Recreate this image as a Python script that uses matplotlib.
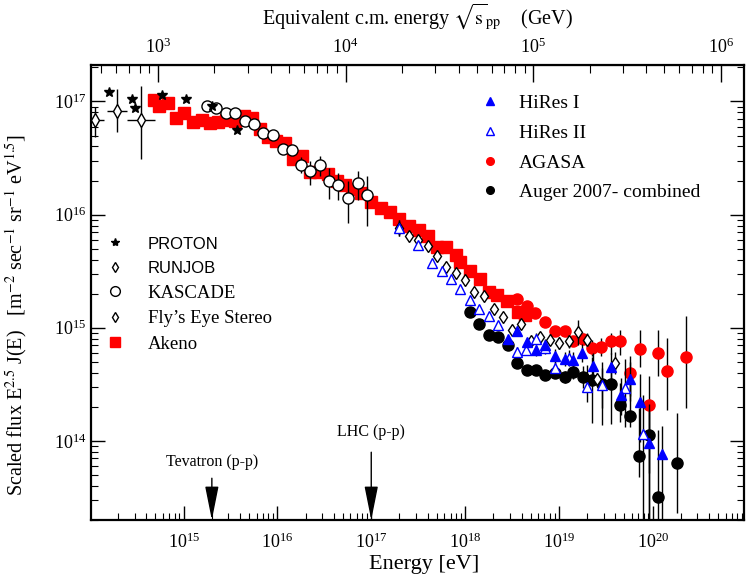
import numpy as np
import matplotlib
matplotlib.use("Agg")
import matplotlib.pyplot as plt
from matplotlib.lines import Line2D
from matplotlib.ticker import FixedLocator, LogLocator, NullFormatter

plt.rcParams["font.family"] = "Liberation Serif"
plt.rcParams["mathtext.fontset"] = "stix"

# all values as log10(E / eV) and log10(E^2.5 J(E))
proton_lgE = [14.20, 14.45, 14.485, 14.765, 15.03, 15.30, 15.565]
proton_lgF = [17.08, 17.02, 16.94, 17.06, 17.02, 16.96, 16.75]

runjob_lgE = [14.06, 14.29, 14.545]
runjob_lgF = [16.84, 16.92, 16.835]
runjob_dx = [0.09, 0.107, 0.15]
runjob_up = [0.11, 0.19, 0.30]
runjob_dn = [0.15, 0.19, 0.34]

kascade_lgE = [15.25, 15.345, 15.45, 15.55, 15.65, 15.75, 15.85, 15.95, 16.055,
               16.15, 16.25, 16.35, 16.45, 16.545, 16.645, 16.75, 16.855, 16.955]
kascade_lgF = [16.96, 16.94, 16.90, 16.895, 16.83, 16.80, 16.72, 16.70, 16.58,
               16.575, 16.44, 16.385, 16.44, 16.295, 16.26, 16.15, 16.275, 16.17]
kascade_up = [0.01, 0.01, 0.01, 0.01, 0.01, 0.01, 0.02, 0.02, 0.03,
              0.03, 0.07, 0.09, 0.08, 0.12, 0.11, 0.15, 0.11, 0.17]
kascade_dn = [0.01, 0.01, 0.01, 0.01, 0.01, 0.01, 0.02, 0.02, 0.03,
              0.03, 0.07, 0.12, 0.10, 0.16, 0.13, 0.22, 0.15, 0.27]

flyseye_lgE = [17.30, 17.40, 17.50, 17.60, 17.70, 17.80, 17.90, 18.00, 18.10, 18.205,
               18.305, 18.40, 18.50, 18.60, 18.70, 18.80, 18.90, 19.005, 19.105,
               19.20, 19.305, 19.405, 19.60]
flyseye_lgF = [15.88, 15.81, 15.78, 15.725, 15.63, 15.54, 15.48, 15.425, 15.32, 15.28,
               15.165, 15.095, 14.98, 15.03, 14.885, 14.92, 14.895, 14.865, 14.88,
               14.96, 14.895, 14.55, 14.69]
flyseye_err = [0.07, 0.02, 0.02, 0.02, 0.02, 0.02, 0.02, 0.02, 0.02, 0.03,
               0.03, 0.03, 0.03, 0.03, 0.04, 0.04, 0.05, 0.05, 0.06,
               0.11, 0.06, 0.05, 0.10]

akeno_lgE = [14.68, 14.74, 14.83, 14.915, 15.00, 15.10, 15.195, 15.28, 15.365, 15.455,
             15.55, 15.64, 15.73, 15.81, 15.90, 15.99, 16.08, 16.17, 16.26, 16.35,
             16.44, 16.535, 16.63, 16.72, 16.80, 16.89, 17.00, 17.10, 17.20, 17.30,
             17.40, 17.505, 17.61, 17.70, 17.80, 17.90, 17.95, 18.05, 18.155, 18.25,
             18.34, 18.45, 18.56, 18.64]
akeno_lgF = [17.01, 16.96, 16.99, 16.855, 16.90, 16.82, 16.84, 16.81, 16.82, 16.84,
             16.83, 16.87, 16.85, 16.76, 16.69, 16.65, 16.63, 16.49, 16.52, 16.38,
             16.38, 16.36, 16.30, 16.26, 16.23, 16.19, 16.11, 16.06, 16.02, 15.965,
             15.90, 15.86, 15.815, 15.715, 15.715, 15.64, 15.58, 15.50, 15.43, 15.32,
             15.29, 15.24, 15.14, 15.11]

hires1_lgE = [18.46, 18.555, 18.66, 18.755, 18.855, 18.955, 19.06, 19.155, 19.25, 19.36,
              19.56, 19.66, 19.755, 19.86, 19.96, 20.10]
hires1_lgF = [14.90, 14.975, 14.87, 14.80, 14.85, 14.75, 14.725, 14.715, 14.78, 14.66,
              14.655, 14.405, 14.55, 14.34, 13.98, 13.885]
hires1_up = [0.04, 0.04, 0.04, 0.05, 0.05, 0.06, 0.06, 0.07, 0.08, 0.12,
             0.12, 0.15, 0.15, 0.25, 0.35, 0.25]
hires1_dn = [0.04, 0.04, 0.04, 0.05, 0.05, 0.06, 0.06, 0.07, 0.08, 0.14,
             0.12, 0.18, 0.20, 0.35, 0.70, 0.80]

hires2_lgE = [17.30, 17.50, 17.65, 17.755, 17.855, 17.95, 18.05, 18.15, 18.25, 18.35,
              18.555, 18.65, 18.755, 18.855, 18.955, 19.105, 19.30, 19.455, 19.70, 19.895]
hires2_lgF = [15.885, 15.73, 15.57, 15.505, 15.43, 15.34, 15.245, 15.17, 15.105, 15.02,
              14.79, 14.80, 14.905, 14.82, 14.64, 14.73, 14.475, 14.49, 14.47, 14.06]
hires2_up = [0.07, 0.02, 0.02, 0.02, 0.02, 0.02, 0.03, 0.03, 0.03, 0.03,
             0.04, 0.04, 0.05, 0.05, 0.06, 0.07, 0.20, 0.15, 0.25, 0.35]
hires2_dn = [0.07, 0.02, 0.02, 0.02, 0.02, 0.02, 0.03, 0.03, 0.03, 0.03,
             0.04, 0.04, 0.05, 0.05, 0.06, 0.07, 0.13, 0.20, 0.35, 1.00]

agasa_lgE = [18.555, 18.655, 18.75, 18.855, 18.955, 19.06, 19.155, 19.255, 19.355, 19.45,
             19.555, 19.655, 19.755, 19.86, 19.96, 20.055, 20.155, 20.36]
agasa_lgF = [15.255, 15.195, 15.13, 15.055, 14.975, 14.975, 14.885, 14.905, 14.82, 14.83,
             14.88, 14.88, 14.60, 14.81, 14.32, 14.78, 14.62, 14.74]
agasa_up = [0.02, 0.02, 0.03, 0.03, 0.03, 0.04, 0.04, 0.05, 0.07, 0.08,
            0.07, 0.10, 0.15, 0.17, 0.25, 0.20, 0.29, 0.36]
agasa_dn = [0.02, 0.02, 0.03, 0.03, 0.03, 0.04, 0.04, 0.05, 0.07, 0.08,
            0.11, 0.12, 0.20, 0.16, 0.60, 0.21, 0.35, 0.45]

auger_lgE = [18.05, 18.15, 18.25, 18.35, 18.46, 18.555, 18.66, 18.755, 18.855, 18.955,
             19.06, 19.155, 19.255, 19.355, 19.46, 19.555, 19.655, 19.755, 19.855, 19.96,
             20.055, 20.26]
auger_lgF = [15.135, 15.03, 14.94, 14.92, 14.845, 14.69, 14.625, 14.625, 14.585, 14.60,
             14.565, 14.61, 14.565, 14.54, 14.50, 14.50, 14.315, 14.22, 13.87, 14.05,
             13.50, 13.805]
auger_up = [0.02, 0.02, 0.02, 0.02, 0.02, 0.03, 0.03, 0.03, 0.03, 0.04,
            0.05, 0.06, 0.10, 0.20, 0.20, 0.19, 0.20, 0.30, 0.42, 0.25,
            0.60, 0.44]
auger_dn = [0.02, 0.02, 0.02, 0.02, 0.02, 0.03, 0.03, 0.03, 0.03, 0.04,
            0.05, 0.06, 0.10, 0.38, 0.36, 0.35, 0.15, 0.10, 0.19, 1.00,
            1.00, 0.44]

tevatron_E, tevatron_label = 2e15, "Tevatron (p-p)"
lhc_E, lhc_label = 1e17, "LHC (p-p)"
energy_ticks = [1e15, 1e16, 1e17, 1e18, 1e19, 1e20]
flux_ticks = [1e14, 1e15, 1e16, 1e17]
sqrts_ticks = [1e3, 1e4, 1e5, 1e6]


def vals(lg):
    return 10 ** np.asarray(lg, dtype=float)


def yerr(lgF, up, dn):
    F = vals(lgF)
    return [F - F * 10 ** (-np.asarray(dn)), F * 10 ** np.asarray(up) - F]


fig = plt.figure(figsize=(7.46, 5.75), dpi=100)
ax = fig.add_axes([91 / 746, 55 / 575, 653 / 746, 455 / 575])
ax.set_xscale("log")
ax.set_yscale("log")
ax.set_xlim(1.03e14, 9.4e20)
ax.set_ylim(2.0e13, 2.1e17)

eb = dict(ecolor="k", elinewidth=1, capsize=0, linestyle="none")

ax.errorbar(vals(akeno_lgE), vals(akeno_lgF), marker="s", ms=8, mfc="red", mec="red",
            **eb, zorder=2)
ax.errorbar(vals(kascade_lgE), vals(kascade_lgF), yerr=yerr(kascade_lgF, kascade_up, kascade_dn),
            marker="o", ms=8, mfc="white", mec="k", mew=1, **eb, zorder=3)
ax.plot(vals(proton_lgE), vals(proton_lgF), "*", ms=7, color="k", zorder=4)
E_rj = vals(runjob_lgE)
ax.errorbar(E_rj, vals(runjob_lgF), yerr=yerr(runjob_lgF, runjob_up, runjob_dn),
            xerr=[E_rj - E_rj * 10 ** -np.array(runjob_dx), E_rj * 10 ** np.array(runjob_dx) - E_rj],
            marker="d", ms=7, mfc="white", mec="k", mew=1, **eb, zorder=4)
ax.errorbar(vals(flyseye_lgE), vals(flyseye_lgF), yerr=yerr(flyseye_lgF, flyseye_err, flyseye_err),
            marker="d", ms=6.5, mfc="white", mec="k", mew=1, **eb, zorder=4)
ax.errorbar(vals(agasa_lgE), vals(agasa_lgF), yerr=yerr(agasa_lgF, agasa_up, agasa_dn),
            marker="o", ms=8, mfc="red", mec="red", **eb, zorder=3)
ax.errorbar(vals(auger_lgE), vals(auger_lgF), yerr=yerr(auger_lgF, auger_up, auger_dn),
            marker="o", ms=8, mfc="k", mec="k", **eb, zorder=3)
ax.errorbar(vals(hires2_lgE), vals(hires2_lgF), yerr=yerr(hires2_lgF, hires2_up, hires2_dn),
            marker="^", ms=7.5, mfc="white", mec="blue", mew=1, **eb, zorder=5)
ax.errorbar(vals(hires1_lgE), vals(hires1_lgF), yerr=yerr(hires1_lgF, hires1_up, hires1_dn),
            marker="^", ms=7.5, mfc="blue", mec="blue", **eb, zorder=5)

# accelerator arrows
arrow = dict(arrowstyle="-|>,head_length=1.5,head_width=0.3", color="k", lw=1,
             shrinkA=0, shrinkB=0, mutation_scale=14)
ax.annotate("", xy=(tevatron_E, 2.0e13), xytext=(tevatron_E, 10 ** 13.67), arrowprops=arrow)
ax.annotate("", xy=(lhc_E, 2.0e13), xytext=(lhc_E, 10 ** 13.90), arrowprops=arrow)
ax.text(tevatron_E, 10 ** 13.81, tevatron_label, ha="center", va="center", fontsize=11.5)
ax.text(lhc_E, 10 ** 14.077, lhc_label, ha="center", va="center", fontsize=11.5)

# axes, ticks
for s in ax.spines.values():
    s.set_linewidth(1.6)
ax.xaxis.set_major_locator(FixedLocator(energy_ticks))
ax.yaxis.set_major_locator(FixedLocator(flux_ticks))
ax.xaxis.set_minor_locator(LogLocator(base=10, subs=np.arange(2, 10), numticks=20))
ax.yaxis.set_minor_locator(LogLocator(base=10, subs=np.arange(2, 10), numticks=20))
ax.xaxis.set_minor_formatter(NullFormatter())
ax.yaxis.set_minor_formatter(NullFormatter())
ax.tick_params(which="both", direction="in", left=True, right=True, top=False, bottom=True,
               labelsize=13)
ax.tick_params(axis="x", pad=9)
ax.tick_params(which="major", length=10, width=1)
ax.tick_params(which="minor", length=5, width=0.8)
ax.set_xlabel("Energy [eV]", fontsize=16)
ax.xaxis.set_label_coords(0.51, -0.078)
ax.set_ylabel(r"Scaled flux E$^{2.5}$ J(E)   [m$^{-2}$ sec$^{-1}$ sr$^{-1}$ eV$^{1.5}$]",
              fontsize=14.5)
ax.yaxis.set_label_coords(-0.094, 0.45)

mp = 0.938e9  # proton mass, eV


def to_sqrts(E):
    return np.sqrt(2 * mp * np.clip(E, 1e-30, None)) / 1e9


def from_sqrts(s):
    return (np.asarray(s) * 1e9) ** 2 / (2 * mp)


top = ax.secondary_xaxis("top", functions=(to_sqrts, from_sqrts))
top.xaxis.set_major_locator(FixedLocator(sqrts_ticks))
top.tick_params(which="both", direction="in", labelsize=13, pad=6)
top.tick_params(which="major", length=12, width=1)
top.tick_params(which="minor", length=6, width=0.8)
top.set_xlabel(r"Equivalent c.m. energy $\sqrt{\mathrm{s}}_{\mathrm{pp}}$    (GeV)",
               fontsize=14.5, labelpad=9)

# legends
h_right = [
    Line2D([], [], ls="none", marker="^", ms=5.5, mfc="blue", mec="blue"),
    Line2D([], [], ls="none", marker="^", ms=5.5, mfc="white", mec="blue"),
    Line2D([], [], ls="none", marker="o", ms=5.5, mfc="red", mec="red"),
    Line2D([], [], ls="none", marker="o", ms=5.5, mfc="k", mec="k"),
]
leg1 = ax.legend(h_right, ["HiRes I", "HiRes II", "AGASA", "Auger 2007- combined"],
                 loc="upper left", bbox_to_anchor=(0.596, 0.935), frameon=False, fontsize=14,
                 handlelength=1, handletextpad=1.0, labelspacing=0.62, borderpad=0, borderaxespad=0)
ax.add_artist(leg1)

h_left = [
    Line2D([], [], ls="none", marker="*", ms=6, color="k"),
    Line2D([], [], ls="none", marker="d", ms=5.5, mfc="white", mec="k"),
    Line2D([], [], ls="none", marker="o", ms=7, mfc="white", mec="k"),
    Line2D([], [], ls="none", marker="d", ms=5.5, mfc="white", mec="k"),
    Line2D([], [], ls="none", marker="s", ms=7, mfc="red", mec="red"),
]
leg2 = ax.legend(h_left, ["PROTON", "RUNJOB", "KASCADE", "Fly\u2019s Eye Stereo", "Akeno"],
                 loc="upper left", bbox_to_anchor=(0.022, 0.625), frameon=False, fontsize=13.5,
                 handlelength=1, handletextpad=1.25, labelspacing=0.45, borderpad=0, borderaxespad=0)
for t in leg2.get_texts()[:2]:
    t.set_family("Liberation Sans")
    t.set_fontsize(12)

fig.savefig("out.png", dpi=100)
